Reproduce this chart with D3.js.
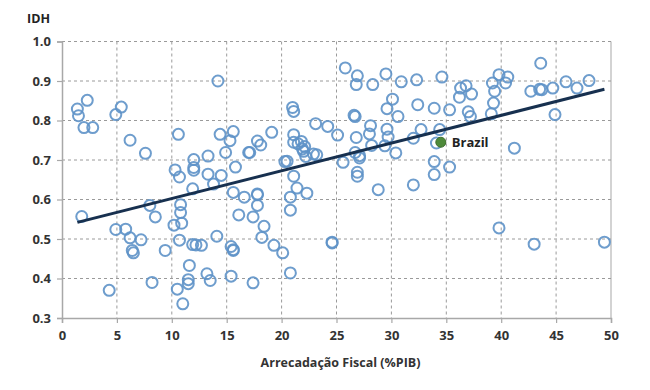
<!DOCTYPE html>
<html><head><meta charset="utf-8">
<script src="https://cdn.jsdelivr.net/npm/d3@7"></script>
<style>body{margin:0;background:#fff;}svg{display:block;}</style>
</head><body>
<svg id="chart" width="650" height="390"></svg>
<script>
const taxPct = [1.4,1.5,2.3,2.0,2.8,1.8,4.9,5.4,6.2,7.6,8.0,8.5,4.9,5.8,6.2,6.4,6.5,7.2,4.3,8.2,9.4,
10.6,10.3,10.7,10.2,10.8,10.8,10.9,10.7,10.5,11.0,11.6,11.5,11.5,12.0,12.0,12.0,11.9,11.9,12.2,12.7,
13.3,13.3,13.8,13.2,13.5,14.1,14.2,14.4,14.5,14.9,15.3,15.6,15.8,15.6,16.1,15.4,15.6,15.6,15.4,16.6,
17.0,17.1,17.8,17.8,17.8,17.4,17.4,17.8,18.1,18.4,18.2,19.1,19.3,20.1,20.3,20.5,20.8,20.8,20.8,
21.0,21.1,21.1,21.1,21.1,21.4,22.3,21.5,21.8,21.9,22.1,22.2,22.0,23.1,22.9,23.2,24.2,24.6,24.6,25.1,
25.6,25.8,26.9,26.8,26.6,26.7,26.8,26.7,27.1,27.1,26.9,26.9,28.3,28.1,28.0,28.2,28.8,29.5,29.6,29.6,
29.7,29.4,30.1,30.9,30.6,30.4,32.3,32.4,32.0,32.7,32.0,33.9,34.6,35.3,34.4,34.1,33.9,33.9,35.3,
36.3,36.8,37.3,36.2,37.0,37.2,39.2,39.4,39.3,39.1,39.8,40.6,40.4,41.2,39.8,42.7,43.6,43.5,43.7,
44.7,44.9,45.9,46.9,48.0,43.0,49.4];
const idh = [0.829,0.812,0.851,0.782,0.782,0.557,0.815,0.834,0.750,0.717,0.585,0.556,0.524,0.525,0.503,0.471,0.465,0.498,0.370,0.390,0.471,
0.765,0.675,0.657,0.535,0.587,0.567,0.540,0.497,0.373,0.336,0.433,0.397,0.387,0.701,0.681,0.674,0.627,0.486,0.485,0.484,
0.710,0.664,0.639,0.412,0.395,0.507,0.900,0.765,0.661,0.719,0.749,0.772,0.682,0.618,0.561,0.481,0.473,0.471,0.406,0.606,
0.719,0.719,0.612,0.614,0.585,0.556,0.389,0.748,0.738,0.532,0.504,0.770,0.484,0.465,0.696,0.697,0.606,0.573,0.414,
0.833,0.823,0.764,0.745,0.659,0.629,0.616,0.741,0.747,0.728,0.734,0.709,0.722,0.792,0.715,0.713,0.785,0.490,0.492,0.763,
0.694,0.933,0.913,0.891,0.813,0.810,0.757,0.719,0.705,0.711,0.669,0.659,0.891,0.787,0.766,0.737,0.625,0.918,0.830,0.778,
0.758,0.736,0.854,0.898,0.810,0.718,0.903,0.840,0.755,0.777,0.637,0.831,0.910,0.827,0.777,0.743,0.696,0.663,0.682,
0.882,0.888,0.867,0.859,0.822,0.810,0.895,0.874,0.844,0.817,0.916,0.910,0.895,0.730,0.528,0.874,0.945,0.879,0.878,
0.882,0.815,0.898,0.882,0.901,0.487,0.492];
const brazil = {name:"Brazil", tax:34.5, idh:0.745};
const trendX = [1.4, 49.4];
const trendY = [0.542, 0.879];
const xTicks = [0,5,10,15,20,25,30,35,40,45,50];
const yTicks = [0.3,0.4,0.5,0.6,0.7,0.8,0.9,1.0];

const svg = d3.select("#chart");
const L=62, R=611, T=41.5, B=318;
const x = d3.scaleLinear().domain([0,50]).range([L,R]);
const y = d3.scaleLinear().domain([0.3,1.0]).range([B,T]);
const font = "'Open Sans','Liberation Sans',Arial,sans-serif";

// gridlines
svg.append("g").selectAll("line").data(xTicks.slice(1)).join("line")
  .attr("x1",d=>x(d)).attr("x2",d=>x(d)).attr("y1",T).attr("y2",B)
  .attr("stroke",d=>d===50?"#c4c4c4":"#9a9a9a").attr("stroke-width",d=>d===50?1.5:1)
  .attr("stroke-dasharray",d=>d===50?null:"3,3");
svg.append("g").selectAll("line").data(yTicks.slice(1)).join("line")
  .attr("x1",L).attr("x2",R).attr("y1",d=>y(d)).attr("y2",d=>y(d))
  .attr("stroke","#9a9a9a").attr("stroke-width",1).attr("stroke-dasharray","3,3");

// axes
const xAxis = svg.append("g").attr("transform",`translate(0,${B})`)
  .call(d3.axisBottom(x).tickValues(xTicks).tickSize(5).tickPadding(8).tickFormat(d3.format("d")));
const yAxis = svg.append("g").attr("transform",`translate(${L},0)`)
  .call(d3.axisLeft(y).tickValues(yTicks).tickSize(5).tickPadding(6).tickFormat(d3.format(".1f")));
[xAxis,yAxis].forEach(g=>{
  g.select(".domain").attr("stroke","#a8a8a8").attr("stroke-width",1.5);
  g.selectAll(".tick line").attr("stroke","#a8a8a8").attr("stroke-width",1.2);
  g.selectAll("text").attr("font-family",font).attr("font-size",13).attr("font-weight","bold").attr("fill","#333");
});

// points
const pts = taxPct.map((v,i)=>({tax:v, idh:idh[i]}));
svg.append("g").selectAll("circle").data(pts).join("circle")
  .attr("cx",d=>x(d.tax)).attr("cy",d=>y(d.idh)).attr("r",5.5)
  .attr("fill","none").attr("stroke","#5e92c8").attr("stroke-width",2).attr("stroke-opacity",0.9);

// trend line
svg.append("line")
  .attr("x1",x(trendX[0])).attr("y1",y(trendY[0]))
  .attr("x2",x(trendX[1])).attr("y2",y(trendY[1]))
  .attr("stroke","#17304f").attr("stroke-width",3);

// Brazil
svg.append("circle").attr("cx",x(brazil.tax)).attr("cy",y(brazil.idh)).attr("r",5)
  .attr("fill","#4e8a3a").attr("stroke","#3d6e2c").attr("stroke-width",1);
svg.append("text").attr("x",x(brazil.tax)+11).attr("y",y(brazil.idh)+5)
  .attr("font-family",font).attr("font-size",13).attr("font-weight","bold").attr("fill","#222")
  .text(brazil.name);

// titles
svg.append("text").attr("x",27).attr("y",23).attr("font-family",font).attr("font-size",12.5)
  .attr("font-weight","bold").attr("fill","#222").text("IDH");
svg.append("text").attr("x",(L+R)/2+4).attr("y",367).attr("text-anchor","middle")
  .attr("font-family",font).attr("font-size",12.5).attr("font-weight","bold").attr("fill","#333")
  .text("Arrecadação Fiscal (%PIB)");
</script>
</body></html>
